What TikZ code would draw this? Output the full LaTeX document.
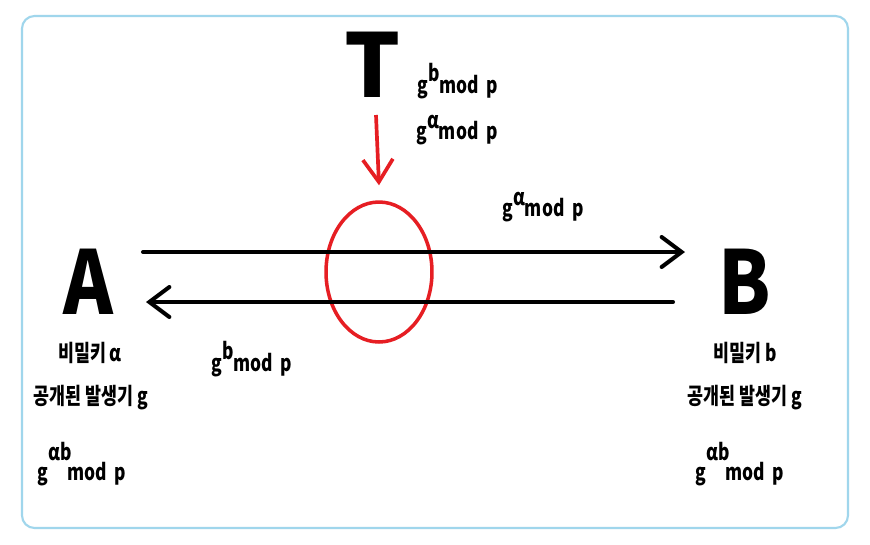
\documentclass[tikz,border=0pt]{standalone}
\usepackage{fontspec}
\setmainfont{Noto Sans CJK KR}[FakeStretch=0.76]
\newfontfamily\partyfont{Noto Sans CJK KR}[FakeStretch=0.86]
\newfontfamily\widefont{Noto Sans CJK KR}
\usetikzlibrary{arrows.meta,positioning,shapes.geometric}
\definecolor{framebl}{RGB}{160,214,236}
\definecolor{spyred}{RGB}{230,30,35}
\tikzset{
    party/.style={
           font=\fontsize{50}{58}\selectfont\partyfont\bfseries,
           inner sep=0pt,
           },
}
\tikzset{
    note/.style={
           font=\fontsize{13}{15}\selectfont\bfseries,
           inner sep=1pt,
           },
}
\tikzset{
    msg/.style={
           line width=2.3pt, line cap=round,
           -{Straight Barb[length=0.4cm,width=0.6cm,line cap=round]},
           },
}
\tikzset{
    spy/.style={
           draw=spyred, line width=2.1pt,
           -{Straight Barb[length=0.45cm,width=0.6cm]},
           },
}
\newcommand{\gmod}[1]{g\raisebox{0.5em}{#1}mod\,\,p}
\newcommand{\gkey}[1]{g\raisebox{0.9em}{#1}\hspace{-0.2em}mod\,\,p}
\begin{document}
\begin{tikzpicture}[x=0.02cm,y=-0.02cm]
\useasboundingbox (0,0) rectangle (870,545);
\fill[white] (0,0) rectangle (870,545);
\draw[framebl, line width=1.2pt, rounded corners=0.25cm] (22,16) rectangle (848,528);
% parties
\node[party](A) at (88,282){A};
\node[party](B) at (745,282){B};
\node[party,font=\fontsize{50}{58}\selectfont\widefont\bfseries](T) at (373,65){T};
\node[ellipse, draw=spyred, line width=2pt, minimum width=2.12cm, minimum height=2.8cm, inner sep=0pt](tap) at (379,272){};
% messages
\coordinate (aout) at (143,252);
\coordinate (bin) at (685,252);
\coordinate (bout) at (673,302);
\coordinate (ain) at (146,302);
\draw[msg] (aout) -- (bin);
\draw[msg] (bout) -- (ain);
\coordinate (spytop) at (376,115);
\draw[spy] (spytop) -- ([yshift=0.3cm]tap.north);
% labels
\node[note](tb) at (458,81){\gmod{b}};
\node[note](ta) at (457,130){\gmod{α}};
\node[note](msga) at (543,207){\gmod{α}};
\node[note](msgb) at (252,359){\gmod{b}};
\node[note](secA) at (90,353){비밀키 α};
\node[note](genA) at (91,398){공개된 발생기 g};
\node[note](keyA) at (82,464){\gkey{αb}};
\node[note](secB) at (745,353){비밀키 b};
\node[note](genB) at (745,398){공개된 발생기 g};
\node[note](keyB) at (740,464){\gkey{αb}};
\end{tikzpicture}
\end{document}
